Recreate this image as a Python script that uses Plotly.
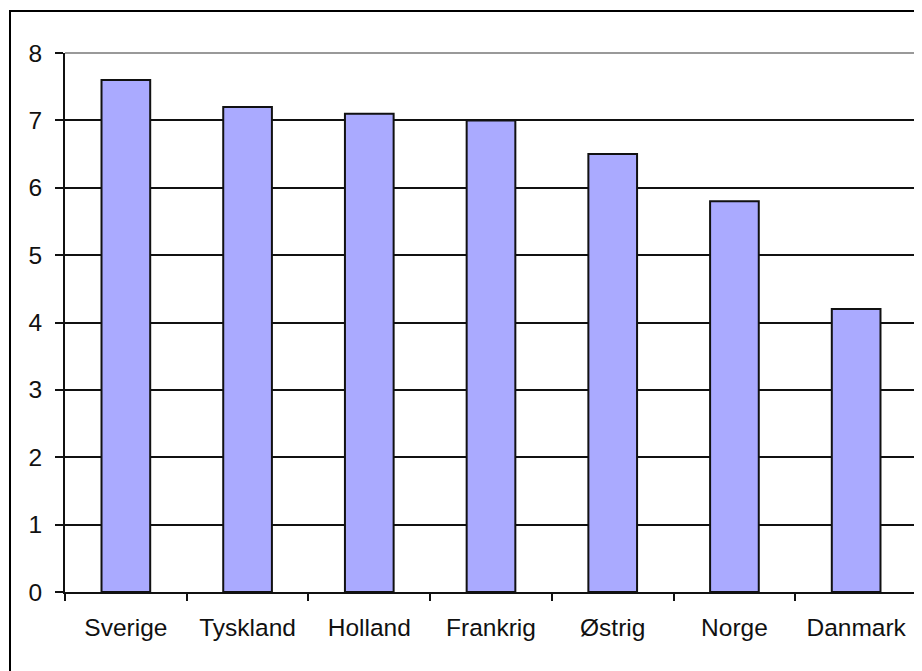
import plotly.graph_objects as go

countries = ["Sverige", "Tyskland", "Holland", "Frankrig", "Østrig", "Norge", "Danmark"]
values = [7.6, 7.2, 7.1, 7.0, 6.5, 5.8, 4.2]

# page body has an 8px margin; compensate
OFF = 8
W, H = 922, 671
L, T = 65 - OFF, 53 - OFF
R = OFF + W - 917
B = OFF + H - 592
pw, ph = W - L - R, H - T - B

fig = go.Figure(go.Bar(
    x=countries, y=values,
    marker=dict(color="#aaaaff", line=dict(color="#111111", width=2)),
    width=0.4,
))

font = dict(family="Liberation Sans, Arial, sans-serif", size=24.5, color="#111111")

fig.update_layout(
    width=W, height=H,
    margin=dict(l=L, r=R, t=T, b=B),
    paper_bgcolor="white", plot_bgcolor="white",
    showlegend=False,
    font=font,
    xaxis=dict(
        type="category", tickson="boundaries", ticks="outside", ticklen=7,
        tickcolor="#111111", tickwidth=2, showline=True, linecolor="#111111",
        linewidth=2, showgrid=False, tickfont=font, ticklabelstandoff=13,
        automargin=False,
    ),
    yaxis=dict(
        range=[0, 8], dtick=1, ticks="outside", ticklen=8, tickcolor="#111111",
        tickwidth=2, showline=True, linecolor="#111111", linewidth=2,
        showgrid=True, gridcolor="#111111", gridwidth=1.8, zeroline=False,
        tickfont=font, ticklabelstandoff=8, automargin=False,
    ),
    shapes=[
        dict(type="line", xref="paper", yref="paper", x0=0, x1=1, y0=1, y1=1,
             line=dict(color="#999999", width=2), layer="above"),
        dict(type="line", xref="paper", yref="paper", x0=1, x1=1, y0=0, y1=1,
             line=dict(color="#999999", width=2), layer="above"),
        dict(type="rect", xref="paper", yref="paper",
             x0=(10 - OFF - L) / pw, x1=1.2, y0=-0.3, y1=1 + (T - (11 - OFF)) / ph,
             line=dict(color="black", width=2), layer="above"),
    ],
)

fig.write_html("out.html")
